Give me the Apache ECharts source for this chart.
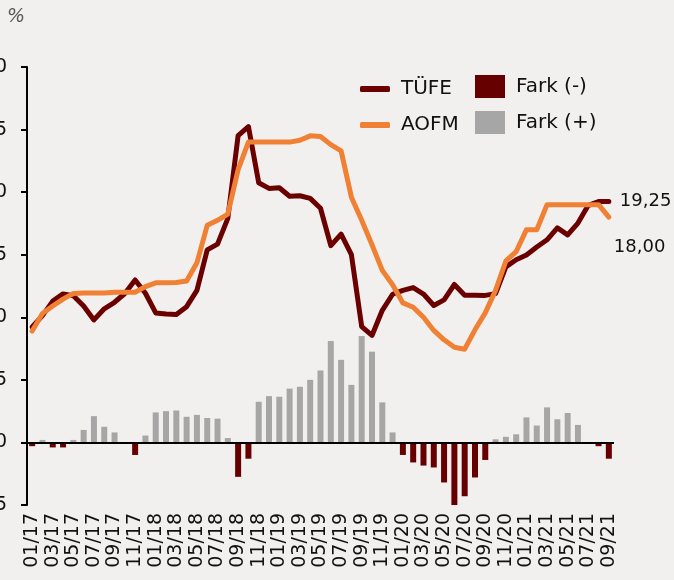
<!DOCTYPE html>
<html>
<head>
<meta charset="utf-8">
<script src="https://cdn.jsdelivr.net/npm/echarts@6/dist/echarts.min.js"></script>
<style>
  html, body { margin: 0; padding: 0; background: #f2f0ee; }
  #chart { width: 674px; height: 580px; }
</style>
</head>
<body>
<div id="chart"></div>
<script>
// aylar 01/17 - 09/21
var months = [
  '01/17','02/17','03/17','04/17','05/17','06/17','07/17','08/17','09/17','10/17','11/17','12/17',
  '01/18','02/18','03/18','04/18','05/18','06/18','07/18','08/18','09/18','10/18','11/18','12/18',
  '01/19','02/19','03/19','04/19','05/19','06/19','07/19','08/19','09/19','10/19','11/19','12/19',
  '01/20','02/20','03/20','04/20','05/20','06/20','07/20','08/20','09/20','10/20','11/20','12/20',
  '01/21','02/21','03/21','04/21','05/21','06/21','07/21','08/21','09/21'
];

var tufe = [
  9.22, 10.13, 11.29, 11.87, 11.72, 10.90, 9.79, 10.68, 11.20, 11.90, 12.98, 11.92,
  10.35, 10.26, 10.23, 10.85, 12.15, 15.39, 15.85, 17.90, 24.52, 25.24, 20.75, 20.30,
  20.35, 19.67, 19.71, 19.50, 18.71, 15.72, 16.65, 15.01, 9.26, 8.55, 10.56, 11.84,
  12.15, 12.37, 11.86, 10.94, 11.39, 12.62, 11.76, 11.77, 11.75, 11.89, 14.03, 14.60,
  14.97, 15.61, 16.19, 17.14, 16.59, 17.53, 18.95, 19.25, 19.25
];

var aofm = [
  8.90, 10.30, 10.90, 11.45, 11.90, 11.95, 11.95, 11.95, 12.00, 12.00, 12.00, 12.45,
  12.75, 12.75, 12.78, 12.90, 14.35, 17.35, 17.75, 18.25, 21.80, 24.00, 24.00, 24.00,
  24.00, 24.00, 24.15, 24.50, 24.45, 23.80, 23.30, 19.60, 17.75, 15.80, 13.75, 12.60,
  11.15, 10.80, 10.00, 8.95, 8.20, 7.60, 7.45, 9.00, 10.35, 12.15, 14.50, 15.25,
  17.00, 17.00, 19.00, 19.00, 19.00, 19.00, 19.00, 19.00, 18.00
];

// fark = AOFM - TÜFE
var fark = [
  -0.3, 0.2, -0.4, -0.4, 0.2, 1.0, 2.1, 1.25, 0.8, 0, -1.0, 0.55,
  2.4, 2.5, 2.55, 2.05, 2.2, 1.95, 1.9, 0.35, -2.75, -1.3, 3.25, 3.7,
  3.65, 4.3, 4.45, 5.0, 5.75, 8.1, 6.6, 4.6, 8.5, 7.25, 3.2, 0.8,
  -1.0, -1.6, -1.85, -2.0, -3.2, -5.0, -4.3, -2.8, -1.4, 0.25, 0.45, 0.65,
  2.0, 1.35, 2.8, 1.85, 2.35, 1.4, 0, -0.3, -1.3
];

var yTicks = { min: -5, max: 30, interval: 5 };

var fontFamily = 'DejaVu Sans';

function fmt(v) {
  return (+v).toFixed(2).replace('.', ',');
}

var farkNeg = fark.map(function (v) { return v < 0 ? v : '-'; });
var farkPos = fark.map(function (v) { return v > 0 ? v : '-'; });

var myChart = echarts.init(document.getElementById('chart'));

var option = {
  backgroundColor: '#f2f0ee',
  animation: false,
  textStyle: { fontFamily: fontFamily },
  title: {
    text: '%',
    left: 2,
    top: 3,
    textStyle: {
      fontFamily: fontFamily,
      fontSize: 19,
      fontStyle: 'italic',
      fontWeight: 'normal',
      color: '#595959'
    }
  },
  legend: [{
    data: ['TÜFE', 'AOFM'],
    orient: 'vertical',
    left: 360,
    top: 79,
    padding: 0,
    icon: 'roundRect',
    itemWidth: 30,
    itemHeight: 6,
    itemGap: 16,
    textStyle: { fontSize: 20, color: '#111', padding: [0, 0, 0, 6] }
  }, {
    data: ['Fark (-)', 'Fark (+)'],
    orient: 'vertical',
    left: 475,
    top: 75,
    padding: 0,
    icon: 'rect',
    itemWidth: 30,
    itemHeight: 23,
    itemGap: 13,
    itemStyle: { borderWidth: 0 },
    textStyle: { fontSize: 20, color: '#111', padding: [0, 0, 0, 6] }
  }],
  grid: {
    left: 27,
    right: 60,
    top: 67,
    bottom: 75,
    containLabel: false,
    outerBoundsMode: 'none'
  },
  xAxis: {
    type: 'category',
    data: months,
    boundaryGap: true,
    axisLine: { show: false, onZero: false },
    axisTick: { show: false },
    axisLabel: {
      interval: 1,
      rotate: 90,
      margin: 8,
      fontSize: 19,
      color: '#111'
    }
  },
  yAxis: {
    type: 'value',
    min: yTicks.min,
    max: yTicks.max,
    interval: yTicks.interval,
    splitLine: { show: false },
    axisLine: { show: true, lineStyle: { color: '#000', width: 2 } },
    axisTick: { show: true, inside: false, length: 6, lineStyle: { color: '#000', width: 2 } },
    axisLabel: {
      margin: 20,
      fontSize: 19,
      color: '#111'
    }
  },
  series: [{
    name: 'Fark (-)',
    type: 'bar',
    stack: 'fark',
    barWidth: 6,
    data: farkNeg,
    itemStyle: { color: '#660000' },
    z: 2
  }, {
    name: 'Fark (+)',
    type: 'bar',
    stack: 'fark',
    barWidth: 6,
    data: farkPos,
    itemStyle: { color: '#a6a6a6' },
    z: 2,
    markLine: {
      silent: true,
      symbol: ['none', 'none'],
      label: { show: false },
      lineStyle: { color: '#000', width: 2, type: 'solid' },
      data: [{ yAxis: 0 }]
    }
  }, {
    name: 'TÜFE',
    type: 'line',
    symbol: 'none',
    showSymbol: false,
    data: tufe,
    endLabel: {
      show: true,
      distance: 11,
      formatter: function (p) { return fmt(p.value); },
      fontSize: 18,
      color: '#111'
    },
    lineStyle: { color: '#6b0000', width: 5, join: 'round', cap: 'round' },
    itemStyle: { color: '#6b0000' },
    z: 4
  }, {
    name: 'AOFM',
    type: 'line',
    symbol: 'none',
    showSymbol: false,
    data: aofm,
    endLabel: {
      show: true,
      distance: 5,
      offset: [0, 30],
      formatter: function (p) { return fmt(p.value); },
      fontSize: 18,
      color: '#111'
    },
    lineStyle: { color: '#f08033', width: 5, join: 'round', cap: 'round' },
    itemStyle: { color: '#f08033' },
    z: 5
  }]
};

try {
  myChart.setOption(option);
} catch (e) {
  console.log(e);
}
</script>
</body>
</html>
